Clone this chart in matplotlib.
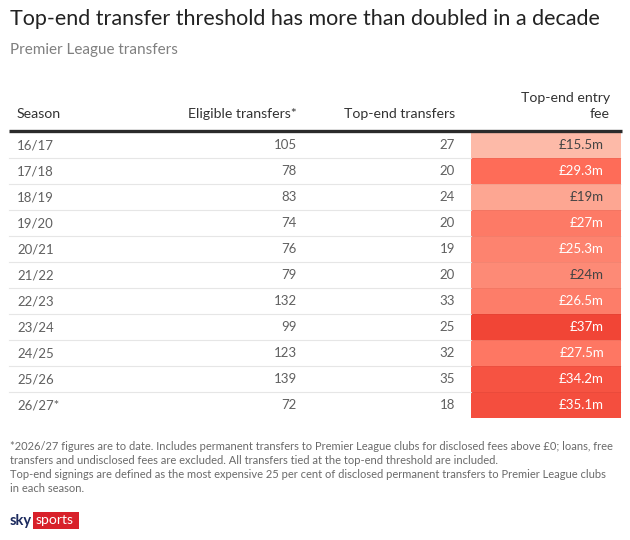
import matplotlib
matplotlib.use('Agg')
import matplotlib.pyplot as plt
from matplotlib.colors import LinearSegmentedColormap, Normalize
from matplotlib.patches import Rectangle

# table data
seasons = ['16/17', '17/18', '18/19', '19/20', '20/21', '21/22',
           '22/23', '23/24', '24/25', '25/26', '26/27*']
eligible = [105, 78, 83, 74, 76, 79, 132, 99, 123, 139, 72]
top_end = [27, 20, 24, 20, 19, 20, 33, 25, 32, 35, 18]
entry_fee = [15.5, 29.3, 19, 27, 25.3, 24, 26.5, 37, 27.5, 34.2, 35.1]
fee_labels = ['£15.5m', '£29.3m', '£19m', '£27m', '£25.3m', '£24m',
              '£26.5m', '£37m', '£27.5m', '£34.2m', '£35.1m']
headers = ['Season', 'Eligible transfers*', 'Top-end transfers', 'Top-end entry\nfee']

title = 'Top-end transfer threshold has more than doubled in a decade'
subtitle = 'Premier League transfers'
notes = ('*2026/27 figures are to date. Includes permanent transfers to Premier League clubs for disclosed fees above £0; loans, free\n'
         'transfers and undisclosed fees are excluded. All transfers tied at the top-end threshold are included.\n'
         'Top-end signings are defined as the most expensive 25 per cent of disclosed permanent transfers to Premier League clubs\n'
         'in each season.')

plt.rcParams['font.family'] = ['Lato', 'DejaVu Sans']

W, H = 630, 540
fig = plt.figure(figsize=(6.3, 5.4), dpi=100)
ax = fig.add_axes([0, 0, 1, 1])
ax.set_xlim(0, W)
ax.set_ylim(H, 0)
ax.axis('off')

text_col = '#333333'
num_col = '#606060'
cmap = LinearSegmentedColormap.from_list(
    'fee', [(0, '#fdbaa8'), (0.2, '#fda18d'), (0.45, '#fd8470'), (0.65, '#fe6b57'), (1, '#f14536')])
norm = Normalize(vmin=min(entry_fee), vmax=max(entry_fee))

ax.text(10, 19, title, fontsize=15.5, color='#222222', va='center', ha='left')
ax.text(10, 50, subtitle, fontsize=11, color='#808080', va='center', ha='left')

# header
top = 131
row_h = 26
col_x = [17, 297, 455, 610]
ax.text(col_x[0], 114, headers[0], fontsize=10.2, color=text_col, va='center', ha='left')
for j in (1, 2):
    ax.text(col_x[j], 114, headers[j], fontsize=10.2, color=text_col, va='center', ha='right')
ax.text(col_x[3], 106, headers[3], fontsize=10.2, color=text_col, va='center', ha='right',
        linespacing=1.45, multialignment='right')
ax.plot([9, 622], [top, top], color='#2b2b2b', lw=2.4, solid_capstyle='butt')

cell_x0, cell_x1 = 471, 621
for i, s in enumerate(seasons):
    y0 = top + 1 + i * row_h
    yc = y0 + row_h / 2
    ax.add_patch(Rectangle((cell_x0, y0), cell_x1 - cell_x0, row_h,
                           facecolor=cmap(norm(entry_fee[i])), edgecolor='none'))
    if i < len(seasons) - 1:
        ax.plot([9, cell_x0], [y0 + row_h, y0 + row_h], color='#e6e6e6', lw=0.8)
        ax.plot([cell_x0, cell_x1], [y0 + row_h, y0 + row_h], color='#000000', lw=0.5, alpha=0.06)
    ax.text(col_x[0], yc, s, fontsize=9.5, color=num_col, va='center', ha='left')
    ax.text(col_x[1], yc, str(eligible[i]), fontsize=9.5, color=num_col, va='center', ha='right')
    ax.text(col_x[2], yc, str(top_end[i]), fontsize=9.5, color=num_col, va='center', ha='right')
    fc = '#444444' if entry_fee[i] < 25 else 'white'
    ax.text(604, yc, fee_labels[i], fontsize=9.5, color=fc, va='center', ha='right')

ax.text(10, 441, notes, fontsize=8.05, color='#6a6a6a', va='top', ha='left', linespacing=1.32)

# sky sports logo
ax.text(10, 521, 'sky', fontsize=10.5, fontweight='bold', color='#1b2a5e', va='center', ha='left')
ax.add_patch(Rectangle((33, 512), 46, 17, facecolor='#d8202a', edgecolor='none'))
ax.text(35.5, 520, 'sports', fontsize=10, color='white', va='center', ha='left')

fig.savefig('out.png', dpi=100, facecolor='white')
